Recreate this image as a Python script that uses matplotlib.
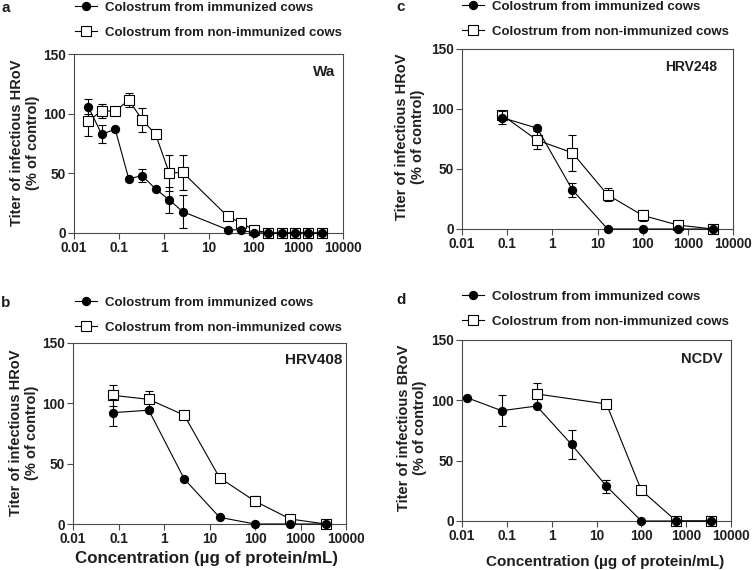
import numpy as np
import matplotlib
matplotlib.use("Agg")
import matplotlib.pyplot as plt
from matplotlib.lines import Line2D

plt.rcParams['font.family'] = ['Liberation Sans', 'DejaVu Sans']
plt.rcParams['font.weight'] = 'bold'

# ---------------- data ----------------
a_x = [0.0207, 0.0415, 0.083, 0.166, 0.33, 0.66, 1.33, 2.66, 26.6, 53, 106, 212, 425, 850, 1700, 3400]
a_imm = [106, 82.7, 87, 45.5, 48, 37, 27.7, 17.9, 2.8, 2.5, 0, 0, 0, 0, 0, 0]
a_imm_err = [6, 7.5, 0, 0, 5.5, 0, 11, 13.8, 0, 0, 0, 0, 0, 0, 0, 0]
a_non = [93.6, 102.5, 102, 111.5, 95, 82.7, 50.3, 50.8, 14, 8.4, 2.5, 0, 0, 0, 0, 0]
a_non_err = [12, 6, 0, 6, 10, 0, 15, 14.5, 0, 0, 0, 0, 0, 0, 0, 0]

c_x = [0.077, 0.463, 2.78, 16.7, 100, 600, 3600]
c_imm = [92.8, 84, 32.6, 0, 0, 0, 0]
c_imm_err = [5.5, 0, 6, 0, 0, 0, 0]
c_non = [95, 74, 63.5, 28.5, 11.3, 3.3, 0]
c_non_err = [3.5, 7.5, 15, 5.5, 4.5, 0, 0]

b_x = [0.077, 0.463, 2.78, 16.7, 100, 600, 3600]
b_imm = [92.3, 94.3, 37.4, 5.5, 0, 0, 0]
b_imm_err = [11, 0, 0, 0, 0, 0, 0]
b_non = [106.6, 103.3, 90.2, 38.3, 18.9, 4.1, 0]
b_non_err = [9, 7, 0, 0, 4, 0, 0]

d_x_imm = [0.0129, 0.077, 0.463, 2.78, 16.7, 100, 600, 3600]
d_imm = [102.2, 91.4, 95.3, 63.4, 28.8, 0, 0, 0]
d_imm_err = [0, 13, 0, 12, 5.5, 0, 0, 0]
d_x_non = [0.463, 16.7, 100, 600, 3600]
d_non = [105.3, 97, 25.5, 0, 0]
d_non_err = [9, 0, 2, 0, 0]

x_ticks = [0.01, 0.1, 1, 10, 100, 1000, 10000]
x_ticklabels = ['0.01', '0.1', '1', '10', '100', '1000', '10000']
y_ticks = [0, 50, 100, 150]

label_imm = 'Colostrum from immunized cows'
label_non = 'Colostrum from non-immunized cows'
xlabel = 'Concentration (µg of protein/mL)'

# ---------------- layout ----------------
W, H = 752, 570
fig = plt.figure(figsize=(W / 100, H / 100), dpi=100)
TXT = '#1e1e1e'
SPINE = '#4a4a4a'


def px_axes(l, t, r, b):
    return fig.add_axes([l / W, 1 - b / H, (r - l) / W, (b - t) / H])


def fx(x):
    return x / W


def fy(y):
    return 1 - y / H


def panel(rect, x_imm, y_imm, e_imm, x_non, y_non, e_non, name, name_pos, name_size,
          letter, letter_pos, leg_pos, ylab, ylab_pos, xlab_pos=None, xlab_size=11):
    ax = px_axes(*rect)
    ax.set_xscale('log')
    ax.set_xlim(0.01, 10000)
    ax.set_ylim(0, 150)
    # open squares
    ax.plot(x_non, y_non, color='black', lw=0.8, marker='s', ms=6.5,
            mfc='white', mec='black', mew=0.8, clip_on=False, zorder=3)
    xn = np.array(x_non); yn = np.array(y_non); en = np.array(e_non)
    m = en > 0
    ax.errorbar(xn[m], yn[m], yerr=en[m], fmt='none', ecolor='black',
                elinewidth=0.8, capsize=3, capthick=0.8, zorder=2)
    # filled circles
    ax.plot(x_imm, y_imm, color='black', lw=0.8, marker='o', ms=5.7,
            mfc='black', mec='black', clip_on=False, zorder=5)
    xi = np.array(x_imm); yi = np.array(y_imm); ei = np.array(e_imm)
    m = ei > 0
    ax.errorbar(xi[m], yi[m], yerr=ei[m], fmt='none', ecolor='black',
                elinewidth=0.8, capsize=3, capthick=0.8, zorder=4)

    ax.set_xticks(x_ticks)
    ax.set_xticklabels(x_ticklabels)
    ax.xaxis.set_minor_locator(matplotlib.ticker.NullLocator())
    ax.set_yticks(y_ticks)
    ax.tick_params(axis='both', direction='out', length=4, width=0.8,
                   color=SPINE, labelsize=9.8, labelcolor=TXT, pad=2)
    for lab in ax.get_xticklabels() + ax.get_yticklabels():
        lab.set_fontweight('bold')
    for s in ax.spines.values():
        s.set_color(SPINE)
        s.set_linewidth(0.8)

    ax.text(name_pos[0], name_pos[1], name, transform=ax.transAxes,
            ha='right', va='center', fontsize=name_size, fontweight='bold', color=TXT)

    fig.text(fx(letter_pos[0]), fy(letter_pos[1]), letter, ha='left', va='center',
             fontsize=11, fontweight='bold', color=TXT)

    fig.text(fx(ylab_pos[0]), fy(ylab_pos[1]), ylab, rotation=90, ha='center',
             va='center', multialignment='center', fontsize=10.5,
             fontweight='bold', color=TXT, linespacing=1.2)

    if xlab_pos is not None:
        fig.text(fx(xlab_pos[0]), fy(xlab_pos[1]), xlabel, ha='center',
                 va='center', fontsize=xlab_size, fontweight='bold', color=TXT)

    h1 = Line2D([], [], color='black', lw=0.8, marker='o', ms=5.7, mfc='black')
    h2 = Line2D([], [], color='black', lw=0.8, marker='s', ms=6.5, mfc='white', mew=0.8)
    leg = fig.legend([h1, h2], [label_imm, label_non], loc='center left',
                     bbox_to_anchor=(fx(leg_pos[0]), fy(leg_pos[1])),
                     frameon=False, fontsize=9.5, handlelength=1.65,
                     handletextpad=0.65, labelspacing=0.95, borderpad=0,
                     borderaxespad=0)
    for t in leg.get_texts():
        t.set_fontweight('bold')
        t.set_color(TXT)
    return ax


panel((74, 54, 343, 233), a_x, a_imm, a_imm_err, a_x, a_non, a_non_err,
      'Wa', (0.97, 0.9), 11, 'a', (1, 8), (75, 20),
      'Titer of infectious HRoV\n(% of control)', (25, 143))

panel((462, 49, 733, 229), c_x, c_imm, c_imm_err, c_x, c_non, c_non_err,
      'HRV248', (0.94, 0.9), 10, 'c', (396, 7), (462, 19),
      'Titer of infectious HRoV\n(% of control)', (410, 137))

panel((73, 343, 346, 524), b_x, b_imm, b_imm_err, b_x, b_non, b_non_err,
      'HRV408', (0.985, 0.906), 11, 'b', (1, 303), (75, 315),
      'Titer of infectious HRoV\n(% of control)', (24, 433), xlab_pos=(207, 558),
      xlab_size=12.2)

panel((462, 340, 731, 521), d_x_imm, d_imm, d_imm_err, d_x_non, d_non, d_non_err,
      'NCDV', (0.97, 0.895), 10.5, 'd', (396, 300), (462, 309),
      'Titer of infectious BRoV\n(% of control)', (412, 428), xlab_pos=(605, 562))

fig.savefig('out.png', dpi=100)
